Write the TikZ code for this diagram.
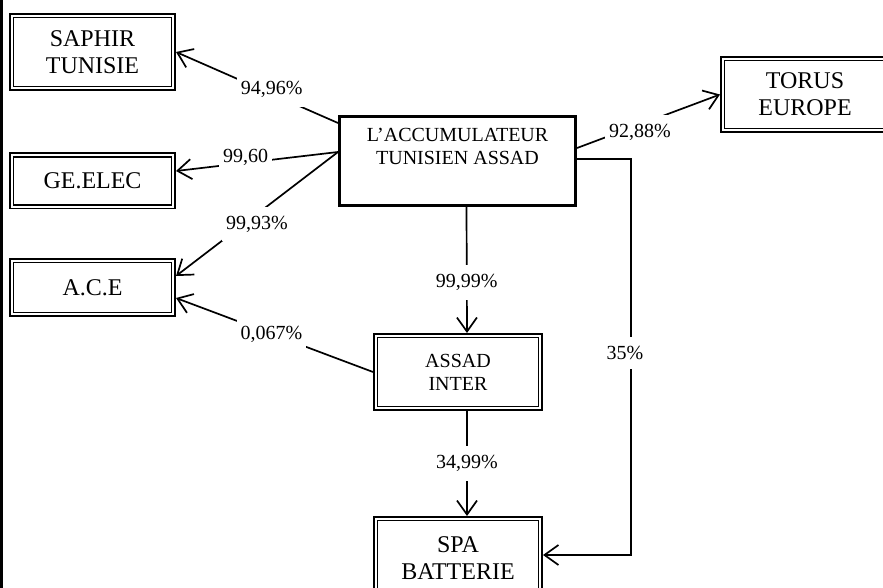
\documentclass[tikz,border=0pt]{standalone}
\usepackage{fontspec}
\setmainfont{Liberation Serif}
\usepackage{tikz}
\usetikzlibrary{arrows.meta, positioning, calc}

\begin{document}
\begin{tikzpicture}[
    x=0.5pt, y=-0.5pt,
    box/.style={
        rectangle,
        draw,
        double,
        double distance=1pt,
        line width=0.8pt,
        inner sep=0pt,
        outer sep=1.3pt,
        minimum width=82.4pt,
        align=center,
        font=\fontsize{12}{13.5}\selectfont
    },
    mainbox/.style={
        rectangle,
        draw,
        line width=1.5pt,
        inner sep=0pt,
        minimum width=118pt,
        minimum height=44.5pt,
        align=center,
        font=\fontsize{10}{11.5}\selectfont
    },
    link/.style={
        -{Straight Barb[length=7pt,width=10pt]},
        line width=0.85pt
    },
    lbl/.style={
        fill=white,
        inner xsep=2pt,
        inner ysep=4.5pt,
        font=\fontsize{10}{12}\selectfont
    }
]
\useasboundingbox (0,0) rectangle (883,588);

% page rule on the left
\fill (0,0) rectangle (3,588);

% Holding company
\node[mainbox] (acc) at (457.5,161) {L’ACCUMULATEUR\\TUNISIEN ASSAD\\\strut};

% Left column
\node[box, minimum width=80.9pt, minimum height=36.4pt] (saphir) at (92.5,52) {SAPHIR\\TUNISIE};
\node[box, minimum width=80.9pt, minimum height=25.9pt] (geelec) at (92.5,181) {GE.ELEC};
\node[box, minimum width=80.9pt, minimum height=26.9pt] (ace) at (92.5,287.5) {A.C.E};

% Right and bottom
\node[box, minimum height=35.9pt] (torus) at (805,94.5) {TORUS\\EUROPE};
\node[box, minimum height=36.4pt, font=\fontsize{10}{11.5}\selectfont] (inter) at (458,372) {ASSAD\\INTER};
\node[box, minimum height=39.4pt] (spa) at (458,558) {SPA\\BATTERIE};

% Shares held
\draw[link] ([yshift=19pt]acc.west) -- node[lbl, pos=0.41, yshift=2pt] {94,96\%} (saphir.east);
\draw[link] ([yshift=4.5pt]acc.west) -- node[lbl, pos=0.57, yshift=2.5pt] {99,60} ([yshift=5pt]geelec.east);
\draw[link] ([yshift=4.5pt]acc.west) -- node[lbl, pos=0.5, yshift=-5pt] {99,93\%} ([yshift=5.75pt]ace.east);
\draw[link] (inter.west) -- node[lbl, pos=0.515] {0,067\%} ([yshift=-5.25pt]ace.east);
\draw[link] ([yshift=6.5pt]acc.east) -- node[lbl, pos=0.44, yshift=-4pt] {92,88\%} (torus.west);
\draw[link] ([xshift=4.5pt]acc.south) -- node[lbl, pos=0.6] {99,99\%} ([xshift=4.5pt]inter.north);
\draw[link] ([xshift=4.5pt]inter.south) -- node[lbl, pos=0.5] {34,99\%} ([xshift=4.5pt]spa.north);
\draw[link] ([yshift=1pt]acc.east) -- ++(27pt,0) |- node[lbl, pos=0.245, xshift=-3pt] {35\%} ([yshift=1.5pt]spa.east);

\end{tikzpicture}
\end{document}
